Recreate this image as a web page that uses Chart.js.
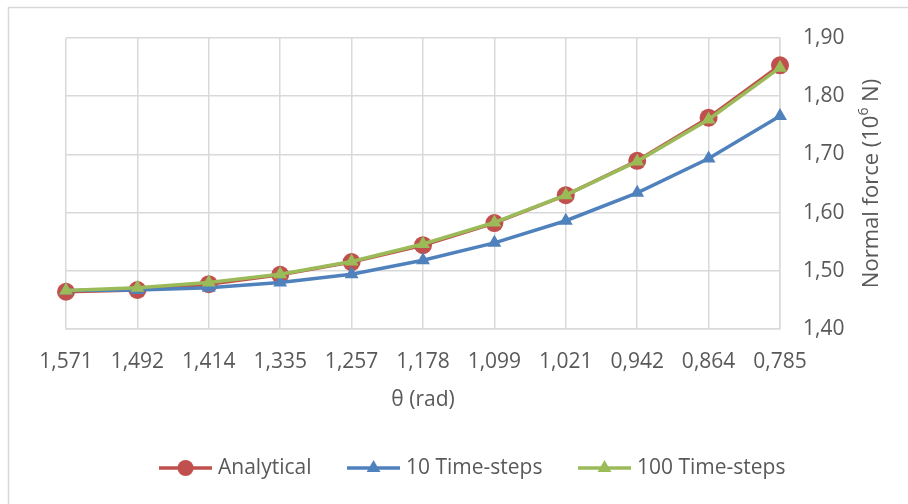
<!DOCTYPE html>
<html>
<head>
<meta charset="utf-8">
<script src="https://cdn.jsdelivr.net/npm/chart.js@4/dist/chart.umd.min.js"></script>
<style>
  html, body { margin: 0; padding: 0; background: #fff; }
</style>
</head>
<body>
<canvas id="force-chart" width="908" height="504"></canvas>
<script>
'use strict';

// theta values (rad), as printed on the category axis
var thetaLabels = ['1,571', '1,492', '1,414', '1,335', '1,257', '1,178', '1,099', '1,021', '0,942', '0,864', '0,785'];
// normal force, 10^6 N
var analytical = [1.464, 1.467, 1.477, 1.493, 1.515, 1.544, 1.582, 1.630, 1.689, 1.763, 1.853];
var tenSteps = [1.466, 1.467, 1.471, 1.480, 1.494, 1.518, 1.548, 1.586, 1.634, 1.693, 1.766];
var hundredSteps = [1.466, 1.471, 1.480, 1.494, 1.516, 1.546, 1.583, 1.630, 1.688, 1.760, 1.849];
var yMin = 1.4, yMax = 1.9, yStep = 0.1;

var textColor = '#595959';
var gridColor = '#d9d9d9';
var font = { family: "'Open Sans', 'DejaVu Sans', sans-serif", size: 21 };

// little line + marker picture for the legend, like the spreadsheet one
var legendSwatch = function(color, marker) {
    var c = document.createElement('canvas');
    c.width = 53;
    c.height = 22;
    var g = c.getContext('2d');
    g.strokeStyle = color;
    g.lineWidth = 3.5;
    g.beginPath();
    g.moveTo(0, 11);
    g.lineTo(53, 11);
    g.stroke();
    g.fillStyle = color;
    g.beginPath();
    if (marker === 'circle') {
        g.arc(26.5, 11, 8, 0, Math.PI * 2);
    } else {
        g.moveTo(26.5, 3);
        g.lineTo(33.4, 15);
        g.lineTo(19.6, 15);
        g.closePath();
    }
    g.fill();
    return c;
};

var swatches = [
    legendSwatch('#c0504d', 'circle'),
    legendSwatch('#4f81bd', 'triangle'),
    legendSwatch('#9bbb59', 'triangle')
];

var frameAndTitle = {
    id: 'frameAndTitle',
    beforeDraw: function(chart) {
        var ctx = chart.ctx;
        ctx.save();
        ctx.strokeStyle = gridColor;
        ctx.lineWidth = 1.5;
        ctx.beginPath();
        ctx.moveTo(8.5, 504);
        ctx.lineTo(8.5, 7.5);
        ctx.lineTo(908, 7.5);
        ctx.stroke();
        ctx.restore();
    },
    afterDraw: function(chart) {
        var ctx = chart.ctx;
        var area = chart.chartArea;
        var big = "22px " + font.family;
        var small = "14px " + font.family;
        var parts = [['Normal force (10', big, 0], ['6', small, -8], [' N)', big, 0]];
        ctx.save();
        var total = 0;
        parts.forEach(function(p) {
            ctx.font = p[1];
            total += ctx.measureText(p[0]).width;
        });
        ctx.translate(872, (area.top + area.bottom) / 2);
        ctx.rotate(-Math.PI / 2);
        ctx.fillStyle = textColor;
        ctx.textBaseline = 'middle';
        var x = -total / 2;
        parts.forEach(function(p) {
            ctx.font = p[1];
            ctx.fillText(p[0], x, p[2]);
            x += ctx.measureText(p[0]).width;
        });
        ctx.restore();
    }
};

var ctx = document.getElementById('force-chart').getContext('2d');
var forceChart = new Chart(ctx, {
    type: 'line',
    data: {
        labels: thetaLabels,
        datasets: [{
            label: 'Analytical',
            data: analytical,
            borderColor: '#c0504d',
            backgroundColor: '#c0504d',
            borderWidth: 3.5,
            pointStyle: 'circle',
            pointRadius: 9,
            pointBorderWidth: 0,
            order: 2
        }, {
            label: '10 Time-steps',
            data: tenSteps,
            borderColor: '#4f81bd',
            backgroundColor: '#4f81bd',
            borderWidth: 3.5,
            pointStyle: 'triangle',
            pointRadius: 8,
            pointBorderWidth: 0,
            order: 1
        }, {
            label: '100 Time-steps',
            data: hundredSteps,
            borderColor: '#9bbb59',
            backgroundColor: '#9bbb59',
            borderWidth: 3.5,
            pointStyle: 'triangle',
            pointRadius: 8,
            pointBorderWidth: 0,
            order: 0
        }]
    },
    options: {
        responsive: false,
        animation: false,
        layout: { padding: { top: 38, left: 66, right: 25, bottom: 15.5 } },
        plugins: {
            tooltip: { enabled: false },
            legend: {
                position: 'bottom',
                labels: {
                    font: font,
                    color: textColor,
                    usePointStyle: true,
                    pointStyleWidth: 44,
                    padding: 40,
                    sort: function(a, b) { return a.datasetIndex - b.datasetIndex; },
                    generateLabels: function(chart) {
                        var items = Chart.defaults.plugins.legend.labels.generateLabels(chart);
                        items.forEach(function(it) {
                            it.pointStyle = swatches[it.datasetIndex];
                        });
                        return items;
                    }
                }
            }
        },
        scales: {
            x: {
                type: 'category',
                offset: false,
                grid: { color: gridColor, lineWidth: 1.5, drawTicks: false },
                border: { color: gridColor, width: 1.5 },
                ticks: { font: font, color: textColor, padding: 20, maxRotation: 0, autoSkip: false },
                title: { display: true, text: 'θ (rad)', font: font, color: textColor, padding: { top: 0, bottom: 5 } },
                afterFit: function(scale) { scale.height = 88.5; }
            },
            y: {
                position: 'right',
                min: yMin,
                max: yMax,
                grid: { color: gridColor, lineWidth: 1.5, drawTicks: false },
                border: { color: gridColor, width: 1.5 },
                ticks: {
                    stepSize: yStep,
                    font: font,
                    color: textColor,
                    padding: 23,
                    callback: function(v) { return v.toFixed(2).replace('.', ','); }
                },
                afterFit: function(scale) { scale.width = 103; }
            }
        }
    },
    plugins: [frameAndTitle]
});
</script>
</body>
</html>
